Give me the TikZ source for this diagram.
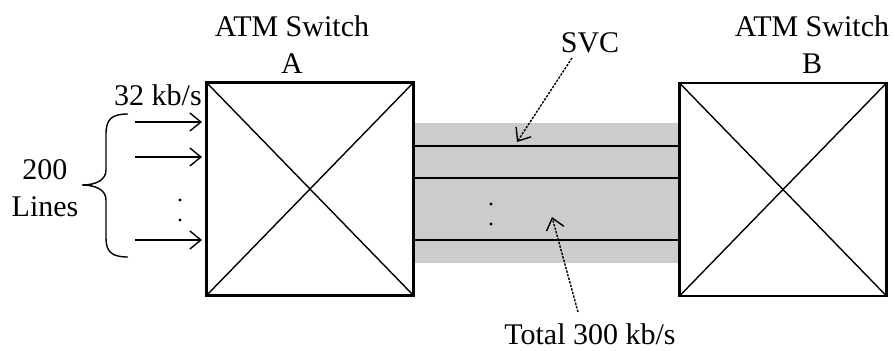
\documentclass[tikz,border=0pt]{standalone}
\usepackage{fontspec}
\setmainfont{Liberation Serif}
\usetikzlibrary{arrows.meta}
\begin{document}
\begin{tikzpicture}[x=1pt,y=-1pt,
  lbl/.style={inner sep=0pt,font=\fontsize{30}{37}\selectfont,align=center},
  switchbox/.style={draw,line width=1.6pt,minimum width=206pt,minimum height=212pt,inner sep=0pt},
  inarrow/.style={line width=1.4pt,-{Straight Barb[length=11pt,width=18pt,line width=1.4pt]}},
  dasharrow/.style={line width=1.4pt,dash pattern=on 2.4pt off 1.3pt,-{Straight Barb[length=11pt,width=18pt,line width=1.4pt,sep=0pt]}},
  svcline/.style={line width=1.8pt},
  dot/.style={circle,fill,inner sep=0pt,minimum size=3.4pt}]
\useasboundingbox (0,0) rectangle (895,351);
% band
\definecolor{bandgray}{gray}{0.80}
\node[switchbox] (A) at (310,189) {};
\node[switchbox] (B) at (783,189.5) {};
\coordinate (bt) at (0,123);
\coordinate (bb) at (0,263);
\fill[bandgray] (A.east |- bt) rectangle (B.west |- bb);
\foreach \yy in {146,178,240} {
  \coordinate (l) at (0,\yy);
  \draw[svcline] (A.east |- l) -- (B.west |- l);
}
\node[dot] (d1) at (491,204) {};
\node[dot] (d2) at (491,224) {};
% boxes with crosses
\foreach \s in {A,B} {
  \draw[line width=1.6pt] (\s.north west) rectangle (\s.south east);
  \draw[line width=1.4pt] (\s.north west) -- (\s.south east) (\s.north east) -- (\s.south west);
}
% titles
\node[lbl] (tA) at (292,45) {ATM Switch\\A};
\node[lbl] (tB) at (812,45) {ATM Switch\\B};
% SVC
\node[lbl] (svc) at (590,43) {SVC};
\coordinate (svcs) at (572,58);
\coordinate (svce) at (517,142);
\draw[dasharrow] (svcs) -- (svce);
% total
\node[lbl] (total) at (590,334) {Total 300 kb/s};
\coordinate (tots) at (578,312);
\coordinate (tote) at (552,217);
\draw[dasharrow] (tots) -- (tote);
% input lines
\node[lbl] (rate) at (158,95) {32 kb/s};
\foreach \yy/\n in {122/a,157/b,240/c} {
  \coordinate (s\n) at (135,\yy);
  \coordinate (e\n) at (202,\yy);
  \draw[inarrow] (s\n) -- (e\n);
}
\node[dot] (ld1) at (180,200) {};
\node[dot] (ld2) at (180,220) {};
% brace
\draw[line width=1.4pt] (128,114) .. controls (112,114) and (106,119) .. (106,134)
  -- (106,170) .. controls (106,180) and (96,185) .. (82,185)
  .. controls (96,185) and (106,190) .. (106,200)
  -- (106,238) .. controls (106,252) and (112,257) .. (128,257);
\node[lbl] (lines) at (45,188) {200\\Lines};
\end{tikzpicture}
\end{document}
